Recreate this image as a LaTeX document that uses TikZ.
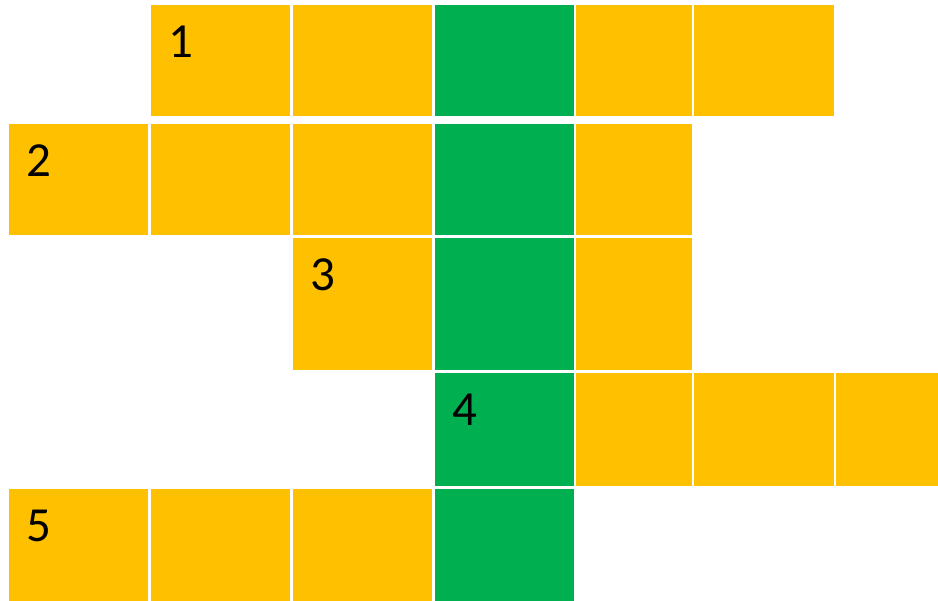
\documentclass[tikz,border=0pt]{standalone}
\usepackage{fontspec}
\setmainfont{Carlito}
\definecolor{cellyellow}{HTML}{FFC000}
\definecolor{cellgreen}{HTML}{00B050}
\tikzset{
  yel/.style={fill=cellyellow},
  grn/.style={fill=cellgreen},
  num/.style={anchor=base west, inner sep=0pt, font=\fontsize{49}{49}\selectfont}
}
\begin{document}
\begin{tikzpicture}[x=1pt,y=-1pt]
  \useasboundingbox (0,0) rectangle (938,601);
  % column and row edges
  \foreach \n/\a/\b in {0/9/148,1/151/290,2/293/432,3/435/574,4/576/692,5/694/834,6/836/938}
    {\coordinate (L\n) at (\a,0); \coordinate (R\n) at (\b,0);}
  \foreach \n/\a/\b in {0/5/116,1/124/235,2/238/370,3/373/486,4/489/601}
    {\coordinate (T\n) at (0,\a); \coordinate (B\n) at (0,\b);}
  % cells
  \foreach \r/\c/\s in {0/1/yel,0/2/yel,0/3/grn,0/4/yel,0/5/yel,
                        1/0/yel,1/1/yel,1/2/yel,1/3/grn,1/4/yel,
                        2/2/yel,2/3/grn,2/4/yel,
                        3/3/grn,3/4/yel,3/5/yel,3/6/yel,
                        4/0/yel,4/1/yel,4/2/yel,4/3/grn}
    \fill[\s] (L\c |- T\r) rectangle (R\c |- B\r);
  % clue numbers
  \foreach \k/\c/\r in {1/1/0,2/0/1,3/2/2,4/3/3,5/0/4}
    \node[num] (n\k) at ([shift={(17,53)}]L\c |- T\r) {\k};
\end{tikzpicture}
\end{document}
